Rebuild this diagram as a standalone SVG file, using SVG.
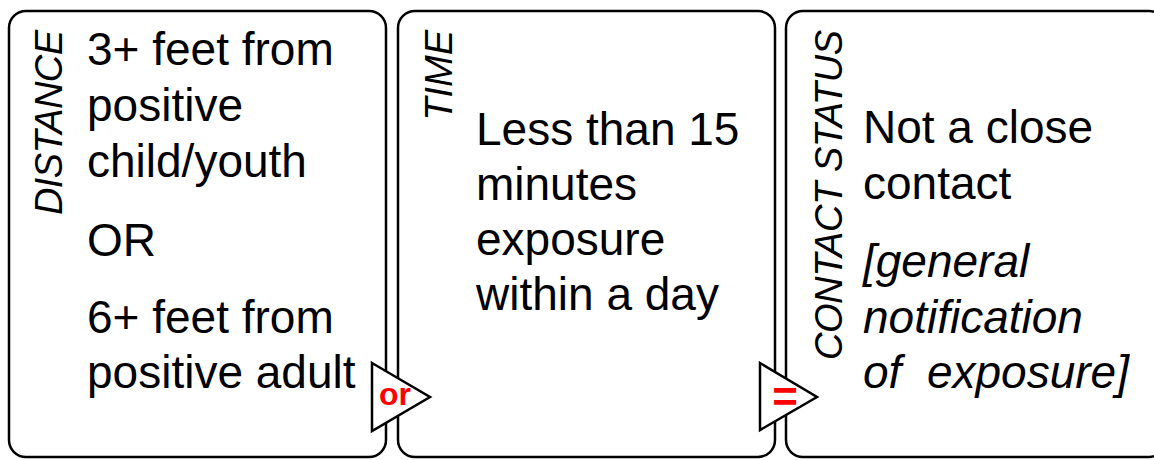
<svg xmlns="http://www.w3.org/2000/svg" width="1154" height="460" viewBox="0 0 1154 460">
<style>
.box{fill:#fff;stroke:#000;stroke-width:2.5}
.t{font-family:"Liberation Sans",Arial,sans-serif;font-size:46px;fill:#000}
.i{font-style:italic}
.lbl{font-family:"Liberation Sans",Arial,sans-serif;font-size:38px;font-style:italic;fill:#000}
.tri{fill:#fff;stroke:#000;stroke-width:2.5;stroke-linejoin:miter}
.op{font-family:"Liberation Sans",Arial,sans-serif;font-weight:bold;fill:#f00}
</style>
<rect width="1154" height="460" fill="#fff"/>
<g id="distance">
<rect class="box" x="9" y="11" width="377" height="446" rx="17"/>
<text class="lbl" transform="translate(62,30) rotate(-90)" text-anchor="end" textLength="185">DISTANCE</text>
<text class="t" x="87" y="65">3+ feet from</text>
<text class="t" x="87" y="121">positive</text>
<text class="t" x="87" y="177">child/youth</text>
<text class="t" x="87" y="256">OR</text>
<text class="t" x="87" y="333">6+ feet from</text>
<text class="t" x="87" y="388">positive adult</text>
</g>
<g id="time">
<rect class="box" x="398" y="11" width="377" height="446" rx="17"/>
<text class="lbl" transform="translate(452,30) rotate(-90)" text-anchor="end">TIME</text>
<text class="t" x="476" y="145">Less than 15</text>
<text class="t" x="476" y="200">minutes</text>
<text class="t" x="476" y="255">exposure</text>
<text class="t" x="476" y="310">within a day</text>
</g>
<g id="contact-status">
<rect class="box" x="786" y="11" width="380" height="446" rx="17"/>
<text class="lbl" transform="translate(842,30) rotate(-90)" text-anchor="end" textLength="330">CONTACT STATUS</text>
<text class="t" x="863" y="143">Not a close</text>
<text class="t" x="863" y="199">contact</text>
<text class="t i" x="863" y="277">[general</text>
<text class="t i" x="863" y="333">notification</text>
<text class="t i" x="863" y="388" style="white-space:pre">of  exposure]</text>
</g>
<g id="connectors">
<g id="op-or">
<polygon class="tri" points="372,363 430,397 372,431"/>
<text class="op" x="395" y="405" font-size="32" text-anchor="middle">or</text>
</g>
<g id="op-eq">
<polygon class="tri" points="760,363 817,397 760,430"/>
<text class="op" x="785" y="412" font-size="44" text-anchor="middle">=</text>
</g>
</g>
</svg>
